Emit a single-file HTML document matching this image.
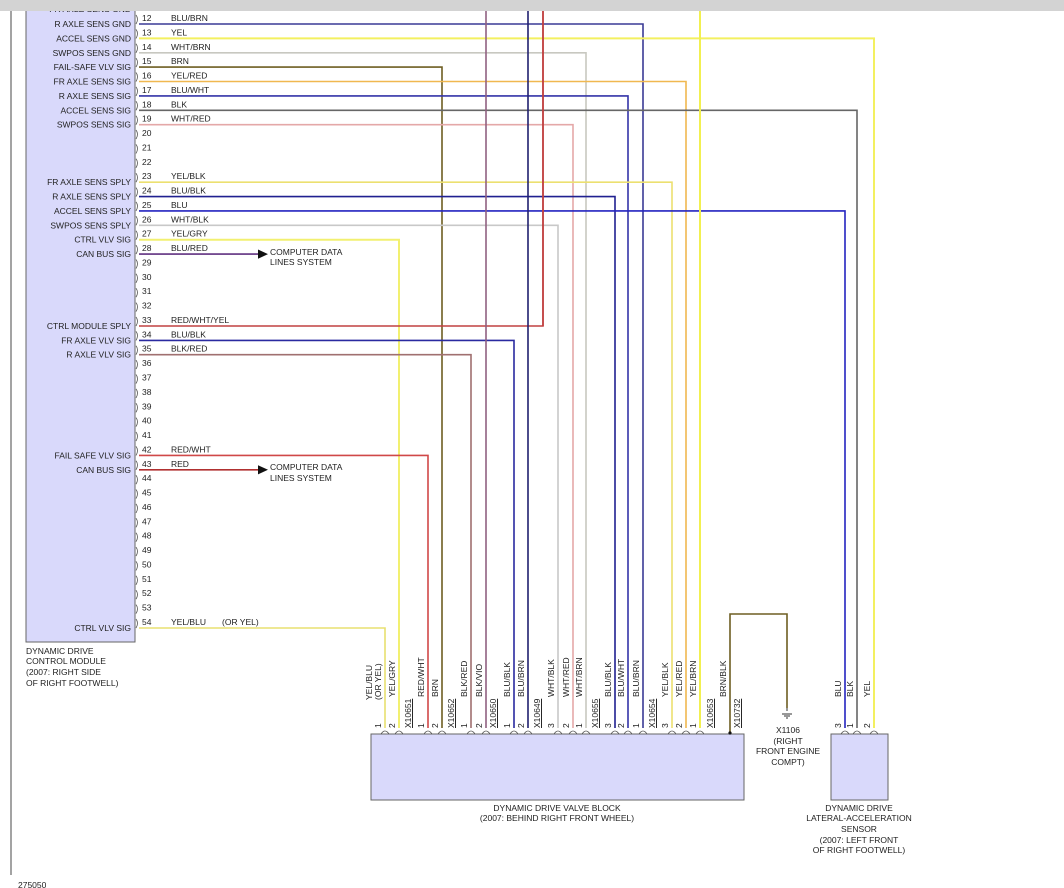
<!DOCTYPE html>
<html><head><meta charset="utf-8"><style>
body{margin:0;background:#fff;}
svg{display:block;font-family:"Liberation Sans",Arial,sans-serif;}
text{font-size:8.5px;fill:#222;}
.n{font-size:8.5px}
</style></head><body>
<svg width="1064" height="888" viewBox="0 0 1064 888">
<rect x="0" y="0" width="1064" height="888" fill="#fff"/>
<line x1="11" y1="0" x2="11" y2="875" stroke="#666" stroke-width="1.2"/>
<rect x="26" y="0" width="109" height="642" fill="#d9d9fb" stroke="#666" stroke-width="1"/>
<g text-anchor="end">
<text x="131" y="12">FR AXLE SENS GND</text>
<text x="131" y="27">R AXLE SENS GND</text>
<text x="131" y="41.4">ACCEL SENS GND</text>
<text x="131" y="55.8">SWPOS SENS GND</text>
<text x="131" y="70.1">FAIL-SAFE VLV SIG</text>
<text x="131" y="84.5">FR AXLE SENS SIG</text>
<text x="131" y="98.9">R AXLE SENS SIG</text>
<text x="131" y="113.3">ACCEL SENS SIG</text>
<text x="131" y="127.7">SWPOS SENS SIG</text>
<text x="131" y="185.2">FR AXLE SENS SPLY</text>
<text x="131" y="199.6">R AXLE SENS SPLY</text>
<text x="131" y="213.9">ACCEL SENS SPLY</text>
<text x="131" y="228.3">SWPOS SENS SPLY</text>
<text x="131" y="242.7">CTRL VLV SIG</text>
<text x="131" y="257.1">CAN BUS SIG</text>
<text x="131" y="329">CTRL MODULE SPLY</text>
<text x="131" y="343.4">FR AXLE VLV SIG</text>
<text x="131" y="357.7">R AXLE VLV SIG</text>
<text x="131" y="458.4">FAIL SAFE VLV SIG</text>
<text x="131" y="472.8">CAN BUS SIG</text>
<text x="131" y="631">CTRL VLV SIG</text>
</g>
<g>
<text x="26" y="654">DYNAMIC DRIVE</text>
<text x="26" y="664">CONTROL MODULE</text>
<text x="26" y="675">(2007: RIGHT SIDE</text>
<text x="26" y="686">OF RIGHT FOOTWELL)</text>
</g>
<!-- pin numbers -->
<g>
<text x="142" y="21">12</text><text x="142" y="35.4">13</text><text x="142" y="49.8">14</text><text x="142" y="64.1">15</text><text x="142" y="78.5">16</text><text x="142" y="92.9">17</text><text x="142" y="107.3">18</text><text x="142" y="121.7">19</text><text x="142" y="136">20</text><text x="142" y="150.4">21</text><text x="142" y="164.8">22</text><text x="142" y="179.2">23</text><text x="142" y="193.6">24</text><text x="142" y="207.9">25</text><text x="142" y="222.3">26</text><text x="142" y="236.7">27</text><text x="142" y="251.1">28</text><text x="142" y="265.5">29</text><text x="142" y="279.8">30</text><text x="142" y="294.2">31</text><text x="142" y="308.6">32</text><text x="142" y="323">33</text><text x="142" y="337.4">34</text><text x="142" y="351.7">35</text><text x="142" y="366.1">36</text><text x="142" y="380.5">37</text><text x="142" y="394.9">38</text><text x="142" y="409.3">39</text><text x="142" y="423.6">40</text><text x="142" y="438">41</text><text x="142" y="452.4">42</text><text x="142" y="466.8">43</text><text x="142" y="481.2">44</text><text x="142" y="495.5">45</text><text x="142" y="509.9">46</text><text x="142" y="524.3">47</text><text x="142" y="538.7">48</text><text x="142" y="553.1">49</text><text x="142" y="567.4">50</text><text x="142" y="581.8">51</text><text x="142" y="596.2">52</text><text x="142" y="610.6">53</text><text x="142" y="625">54</text>
</g>
<!-- pin brackets -->
<path d="M136,15 q3,4 0,9 M136,29.4 q3,4 0,9 M136,43.8 q3,4 0,9 M136,58.1 q3,4 0,9 M136,72.5 q3,4 0,9 M136,86.9 q3,4 0,9 M136,101.3 q3,4 0,9 M136,115.7 q3,4 0,9 M136,130 q3,4 0,9 M136,144.4 q3,4 0,9 M136,158.8 q3,4 0,9 M136,173.2 q3,4 0,9 M136,187.6 q3,4 0,9 M136,201.9 q3,4 0,9 M136,216.3 q3,4 0,9 M136,230.7 q3,4 0,9 M136,245.1 q3,4 0,9 M136,259.5 q3,4 0,9 M136,273.8 q3,4 0,9 M136,288.2 q3,4 0,9 M136,302.6 q3,4 0,9 M136,317 q3,4 0,9 M136,331.4 q3,4 0,9 M136,345.7 q3,4 0,9 M136,360.1 q3,4 0,9 M136,374.5 q3,4 0,9 M136,388.9 q3,4 0,9 M136,403.3 q3,4 0,9 M136,417.6 q3,4 0,9 M136,432 q3,4 0,9 M136,446.4 q3,4 0,9 M136,460.8 q3,4 0,9 M136,475.2 q3,4 0,9 M136,489.5 q3,4 0,9 M136,503.9 q3,4 0,9 M136,518.3 q3,4 0,9 M136,532.7 q3,4 0,9 M136,547.1 q3,4 0,9 M136,561.4 q3,4 0,9 M136,575.8 q3,4 0,9 M136,590.2 q3,4 0,9 M136,604.6 q3,4 0,9 M136,619 q3,4 0,9" fill="none" stroke="#555" stroke-width="0.8"/>
<!-- wire labels -->
<g>
<text x="171" y="21">BLU/BRN</text><text x="171" y="35.4">YEL</text><text x="171" y="49.8">WHT/BRN</text><text x="171" y="64.1">BRN</text><text x="171" y="78.5">YEL/RED</text><text x="171" y="92.9">BLU/WHT</text><text x="171" y="107.3">BLK</text><text x="171" y="121.7">WHT/RED</text>
<text x="171" y="179.2">YEL/BLK</text><text x="171" y="193.6">BLU/BLK</text><text x="171" y="207.9">BLU</text><text x="171" y="222.3">WHT/BLK</text><text x="171" y="236.7">YEL/GRY</text><text x="171" y="251.1">BLU/RED</text>
<text x="171" y="323">RED/WHT/YEL</text><text x="171" y="337.4">BLU/BLK</text><text x="171" y="351.7">BLK/RED</text>
<text x="171" y="452.4">RED/WHT</text><text x="171" y="466.8">RED</text>
<text x="171" y="625">YEL/BLU</text><text x="222" y="625">(OR YEL)</text>
</g>
<!-- wires -->
<g fill="none" stroke-width="1.6">
<polyline points="139,24 643,24 643,728" stroke="#3a3a95"/>
<polyline points="139,38.4 874,38.4 874,728" stroke="#f3f060" stroke-width="2"/>
<polyline points="139,52.8 586,52.8 586,728" stroke="#c8c8c0"/>
<polyline points="139,67.1 442,67.1 442,728" stroke="#6e5e22"/>
<polyline points="139,81.5 686,81.5 686,728" stroke="#f0b850"/>
<polyline points="139,95.9 628,95.9 628,728" stroke="#3434a8"/>
<polyline points="139,110.3 857,110.3 857,728" stroke="#666"/>
<polyline points="139,124.7 573,124.7 573,728" stroke="#e4a8a8"/>
<polyline points="139,182.2 672,182.2 672,728" stroke="#ece070"/>
<polyline points="139,196.6 615,196.6 615,728" stroke="#202090"/>
<polyline points="139,210.9 845,210.9 845,728" stroke="#2424c0"/>
<polyline points="139,225.3 558,225.3 558,728" stroke="#c8c8c8"/>
<polyline points="139,239.7 399,239.7 399,728" stroke="#f2f070" stroke-width="2"/>
<polyline points="139,254.1 260,254.1" stroke="#603080"/>
<polyline points="139,326 543,326 543,0" stroke="#c04040"/>
<polyline points="139,340.4 514,340.4 514,728" stroke="#2a2aa0"/>
<polyline points="139,354.7 471,354.7 471,728" stroke="#a07070"/>
<polyline points="139,455.4 428,455.4 428,728" stroke="#d04848"/>
<polyline points="139,469.8 260,469.8" stroke="#b03030"/>
<polyline points="139,628 385,628 385,728" stroke="#e8e070"/>
<line x1="543" y1="326" x2="543" y2="0" stroke="#c04040"/>
<line x1="486" y1="0" x2="486" y2="728" stroke="#906080"/>
<line x1="528" y1="0" x2="528" y2="728" stroke="#202070"/>
<line x1="700" y1="0" x2="700" y2="728" stroke="#f2f050" stroke-width="2"/>
<polyline points="730,733 730,614 787,614 787,708" stroke="#6e5e22"/>
</g>
<polygon points="258,249.5 268,254.1 258,258.7" fill="#111"/>
<polygon points="258,465.2 268,469.8 258,474.4" fill="#111"/>
<text x="270" y="255">COMPUTER DATA</text><text x="270" y="265">LINES SYSTEM</text>
<text x="270" y="470">COMPUTER DATA</text><text x="270" y="481">LINES SYSTEM</text>
<rect x="0" y="0" width="1064" height="11" fill="#d3d3d3"/>
<!-- boxes -->
<rect x="371" y="734" width="373" height="66" fill="#d9d9fb" stroke="#666"/>
<rect x="831" y="734" width="57" height="66" fill="#d9d9fb" stroke="#666"/>
<circle cx="730" cy="733" r="1.6" fill="#111"/>
<g text-anchor="middle">
<text x="557" y="811">DYNAMIC DRIVE VALVE BLOCK</text>
<text x="557" y="821">(2007: BEHIND RIGHT FRONT WHEEL)</text>
<text x="859" y="811">DYNAMIC DRIVE</text>
<text x="859" y="821">LATERAL-ACCELERATION</text>
<text x="859" y="832">SENSOR</text>
<text x="859" y="843">(2007: LEFT FRONT</text>
<text x="859" y="853">OF RIGHT FOOTWELL)</text>
<text x="788" y="733">X1106</text>
<text x="788" y="744">(RIGHT</text>
<text x="788" y="754">FRONT ENGINE</text>
<text x="788" y="765">COMPT)</text>
</g>
<path d="M787,708 v3 M782,714 h10 M784,716 h6 M786,718 h2" stroke="#333" fill="none"/>
<!-- connector arcs -->
<path d="M381,734 q4,-6 8,0 M395,734 q4,-6 8,0 M424,734 q4,-6 8,0 M438,734 q4,-6 8,0 M467,734 q4,-6 8,0 M482,734 q4,-6 8,0 M510,734 q4,-6 8,0 M524,734 q4,-6 8,0 M554,734 q4,-6 8,0 M569,734 q4,-6 8,0 M582,734 q4,-6 8,0 M611,734 q4,-6 8,0 M624,734 q4,-6 8,0 M639,734 q4,-6 8,0 M668,734 q4,-6 8,0 M682,734 q4,-6 8,0 M696,734 q4,-6 8,0 M841,734 q4,-6 8,0 M853,734 q4,-6 8,0 M870,734 q4,-6 8,0" fill="none" stroke="#555" stroke-width="0.8"/>
<!-- pin numbers bottom -->
<g>
<text transform="translate(381,728) rotate(-90)">1</text>
<text transform="translate(395,728) rotate(-90)">2</text>
<text transform="translate(424,728) rotate(-90)">1</text>
<text transform="translate(438,728) rotate(-90)">2</text>
<text transform="translate(467,728) rotate(-90)">1</text>
<text transform="translate(482,728) rotate(-90)">2</text>
<text transform="translate(510,728) rotate(-90)">1</text>
<text transform="translate(524,728) rotate(-90)">2</text>
<text transform="translate(554,728) rotate(-90)">3</text>
<text transform="translate(569,728) rotate(-90)">2</text>
<text transform="translate(582,728) rotate(-90)">1</text>
<text transform="translate(611,728) rotate(-90)">3</text>
<text transform="translate(624,728) rotate(-90)">2</text>
<text transform="translate(639,728) rotate(-90)">1</text>
<text transform="translate(668,728) rotate(-90)">3</text>
<text transform="translate(682,728) rotate(-90)">2</text>
<text transform="translate(696,728) rotate(-90)">1</text>
<text transform="translate(841,728) rotate(-90)">3</text>
<text transform="translate(853,728) rotate(-90)">1</text>
<text transform="translate(870,728) rotate(-90)">2</text>
</g>
<!-- wire color labels bottom -->
<g>
<text transform="translate(372,700) rotate(-90)">YEL/BLU</text>
<text transform="translate(381,700) rotate(-90)">(OR YEL)</text>
<text transform="translate(395,697) rotate(-90)">YEL/GRY</text>
<text transform="translate(424,697) rotate(-90)">RED/WHT</text>
<text transform="translate(438,697) rotate(-90)">BRN</text>
<text transform="translate(467,697) rotate(-90)">BLK/RED</text>
<text transform="translate(482,697) rotate(-90)">BLK/VIO</text>
<text transform="translate(510,697) rotate(-90)">BLU/BLK</text>
<text transform="translate(524,697) rotate(-90)">BLU/BRN</text>
<text transform="translate(554,697) rotate(-90)">WHT/BLK</text>
<text transform="translate(569,697) rotate(-90)">WHT/RED</text>
<text transform="translate(582,697) rotate(-90)">WHT/BRN</text>
<text transform="translate(611,697) rotate(-90)">BLU/BLK</text>
<text transform="translate(624,697) rotate(-90)">BLU/WHT</text>
<text transform="translate(639,697) rotate(-90)">BLU/BRN</text>
<text transform="translate(668,697) rotate(-90)">YEL/BLK</text>
<text transform="translate(682,697) rotate(-90)">YEL/RED</text>
<text transform="translate(696,697) rotate(-90)">YEL/BRN</text>
<text transform="translate(726,697) rotate(-90)">BRN/BLK</text>
<text transform="translate(841,697) rotate(-90)">BLU</text>
<text transform="translate(853,697) rotate(-90)">BLK</text>
<text transform="translate(870,697) rotate(-90)">YEL</text>
</g>
<g text-decoration="underline">
<text transform="translate(411,728) rotate(-90)">X10651</text>
<text transform="translate(454,728) rotate(-90)">X10652</text>
<text transform="translate(496,728) rotate(-90)">X10650</text>
<text transform="translate(540,728) rotate(-90)">X10649</text>
<text transform="translate(598,728) rotate(-90)">X10655</text>
<text transform="translate(655,728) rotate(-90)">X10654</text>
<text transform="translate(713,728) rotate(-90)">X10653</text>
<text transform="translate(740,728) rotate(-90)">X10732</text>
</g>
<text x="18" y="888" fill="#444">275050</text>
</svg>
</body></html>
